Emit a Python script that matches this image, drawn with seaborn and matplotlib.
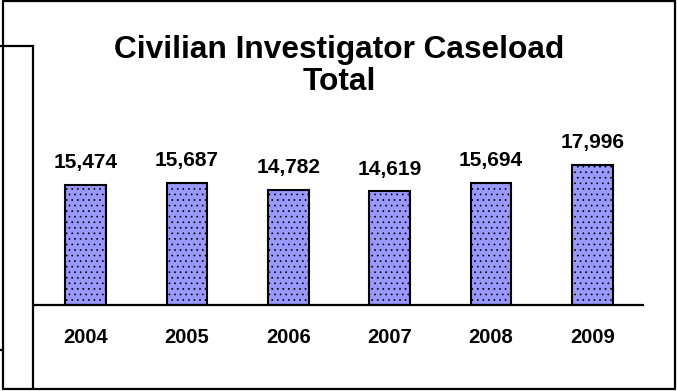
import numpy as np
import pandas as pd
import matplotlib
matplotlib.use("Agg")
import matplotlib.pyplot as plt
import seaborn as sns
from matplotlib.lines import Line2D

# ------------------------------
# Data
# ------------------------------
years = ["2004", "2005", "2006", "2007", "2008", "2009"]
caseload = [15474, 15687, 14782, 14619, 15694, 17996]
value_labels = ["15,474", "15,687", "14,782", "14,619", "15,694", "17,996"]

df = pd.DataFrame({"Year": years, "Caseload": caseload})

# ------------------------------
# Style
# ------------------------------
sns.set_style("white")
plt.rcParams["font.family"] = ["Liberation Sans", "DejaVu Sans"]
plt.rcParams["text.color"] = "black"
plt.rcParams["xtick.color"] = "black"
plt.rcParams["hatch.linewidth"] = 0.5

W, H = 677, 391
fig = plt.figure(figsize=(W / 100, H / 100), dpi=100)

# axes placed in pixel terms: baseline at y=305, x from 35 to 643
ymax = 20000
px_per_unit = 140 / 17996
ax_h = ymax * px_per_unit
ax = fig.add_axes([35 / W, (H - 305) / H, 608 / W, ax_h / H])

sns.barplot(data=df, x="Year", y="Caseload", color="#9999FF",
            edgecolor="black", linewidth=1.5, width=0.4, saturation=1, ax=ax)
for bar in ax.patches:
    bar.set_hatch("...")

ax.set_xlim(-0.5, 5.5)
ax.set_ylim(0, ymax)
ax.set_xlabel("")
ax.set_ylabel("")
ax.set_yticks([])
for side in ["top", "left", "right"]:
    ax.spines[side].set_visible(False)
ax.spines["bottom"].set_linewidth(1.6)
ax.spines["bottom"].set_color("black")
ax.tick_params(axis="x", length=0, pad=16.5, colors="black")
for lab in ax.get_xticklabels():
    lab.set_fontsize(14.5)
    lab.set_fontweight("bold")
    lab.set_color("black")

# value labels above bars
for i, (v, txt) in enumerate(zip(caseload, value_labels)):
    ax.annotate(txt, (i, v), xytext=(0, 12), textcoords="offset points",
                ha="center", va="baseline", fontsize=15, fontweight="bold",
                color="black")

# title (two lines)
fig.text(339 / W, 1 - 58 / H, "Civilian Investigator Caseload", ha="center",
         va="baseline", fontsize=22.8, fontweight="bold", color="black")
fig.text(339 / W, 1 - 90 / H, "Total", ha="center",
         va="baseline", fontsize=22.8, fontweight="bold", color="black")

# frame lines
def fl(xs, ys):
    fig.add_artist(Line2D([x / W for x in xs], [1 - y / H for y in ys],
                          transform=fig.transFigure, color="black", lw=1.6,
                          solid_joinstyle="miter"))

fl([3, 675, 675, 3, 3], [1, 1, 389, 389, 1])
fl([0, 33, 33], [46, 46, 389])
fl([0, 3], [350, 350])

fig.savefig("out.png", dpi=100)
